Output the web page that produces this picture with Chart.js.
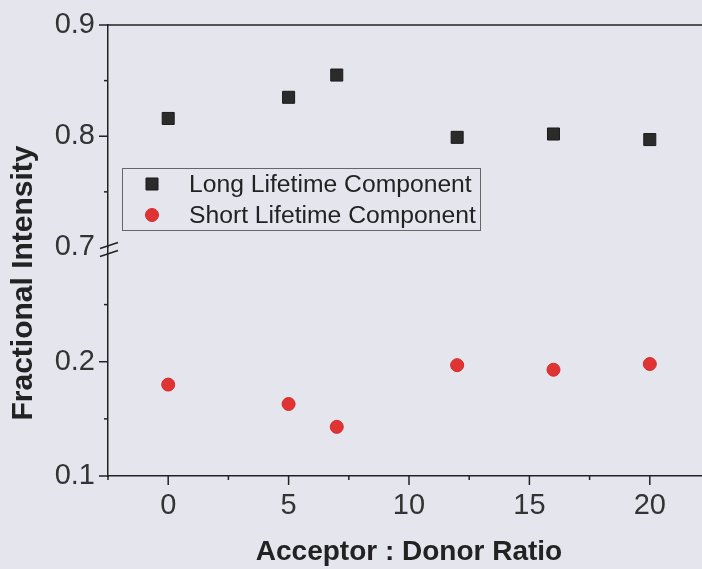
<!DOCTYPE html>
<html>
<head>
<meta charset="utf-8">
<script src="https://cdn.jsdelivr.net/npm/chart.js@4.4.1/dist/chart.umd.min.js"></script>
<style>
  html,
  body {
    margin: 0;
    padding: 0;
    overflow: hidden;
    background: #e5e5ed;
  }
</style>
</head>
<body>
<canvas id="myChartRatio" width="740" height="569"></canvas>
<script>
//? Données.

const ratios = [0, 5, 7, 12, 16, 20];
const longLifetime = [0.816, 0.835, 0.855, 0.799, 0.802, 0.797];
const shortLifetime = [0.18, 0.163, 0.143, 0.197, 0.193, 0.198];

const xTickLabels = [0, 5, 10, 15, 20];
const yTickLabelsLow = [0.1, 0.2];
const yTickLabelsHigh = [0.7, 0.8, 0.9];

const labelLong = "Long Lifetime Component";
const labelShort = "Short Lifetime Component";
const titreX = "Acceptor : Donor Ratio";
const titreY = "Fractional Intensity";

//? -------------------------------------------------

const police = "'Liberation Sans', Arial, sans-serif";
const couleurAxe = "#222";

const dansListe = (liste, v) => liste.some((l) => Math.abs(l - v) < 1e-6);

const toPoints = (xs, ys) => xs.map((x, i) => ({ x: x, y: ys[i] }));

//? Ticks, cadre, coupure d'axe, légende et titre Y.

const decorPlugin = {
  id: "decorFigure",
  afterDraw(chart) {
    const ctx = chart.ctx;
    const { x, yHigh, yLow } = chart.scales;
    const area = chart.chartArea;

    const ligne = (x1, y1, x2, y2) => {
      ctx.beginPath();
      ctx.moveTo(x1, y1);
      ctx.lineTo(x2, y2);
      ctx.stroke();
    };

    ctx.save();
    ctx.strokeStyle = couleurAxe;
    ctx.lineWidth = 1.5;

    // ticks axe X
    x.ticks.forEach((t) => {
      const px = x.getPixelForValue(t.value);
      const len = dansListe(xTickLabels, t.value) ? 9 : 4;
      ligne(px, area.bottom, px, area.bottom + len);
    });

    // ticks axes Y (pas de tick sur la coupure)
    yHigh.ticks.forEach((t) => {
      if (Math.abs(t.value - yHigh.min) < 1e-6) return;
      const py = yHigh.getPixelForValue(t.value);
      const len = dansListe(yTickLabelsHigh, t.value) ? 9 : 4;
      ligne(area.left - len, py, area.left, py);
    });
    yLow.ticks.forEach((t) => {
      if (Math.abs(t.value - yLow.max) < 1e-6) return;
      const py = yLow.getPixelForValue(t.value);
      const len = dansListe(yTickLabelsLow, t.value) ? 9 : 4;
      ligne(area.left - len, py, area.left, py);
    });

    // cadre haut et droite
    ligne(area.left, area.top, area.right, area.top);
    ligne(area.right, area.top, area.right, area.bottom);

    // coupure //
    const cx = area.left + 1;
    const cy = yHigh.bottom + 2;
    ligne(cx - 9, cy - 1, cx + 9, cy - 7);
    ligne(cx - 9, cy + 7, cx + 9, cy + 1);

    // légende
    ctx.lineWidth = 1;
    ctx.strokeStyle = "#666";
    ctx.strokeRect(122.5, 168.5, 358, 62);

    ctx.font = "24.7px " + police;
    ctx.textBaseline = "middle";
    ctx.textAlign = "left";
    chart.data.datasets.forEach((ds, i) => {
      const py = 184 + i * 31;
      ctx.fillStyle = ds.backgroundColor;
      ctx.strokeStyle = ds.borderColor;
      ctx.lineWidth = ds.borderWidth;
      Chart.helpers.drawPoint(
        ctx,
        { pointStyle: ds.pointStyle, radius: ds.pointRadius, borderWidth: ds.borderWidth },
        152,
        py
      );
      ctx.fillStyle = couleurAxe;
      ctx.fillText(ds.label, 189, py + 1);
    });

    // titre Y
    ctx.translate(24, 283);
    ctx.rotate(-Math.PI / 2);
    ctx.font = "bold 30px " + police;
    ctx.textAlign = "center";
    ctx.fillStyle = couleurAxe;
    ctx.fillText(titreY, 0, 0);

    ctx.restore();
  },
};

//? -------------------------------------------------

//? Construction du graphique.

const ctxRatio = document.getElementById("myChartRatio").getContext("2d");

const data = {
  datasets: [
    {
      label: labelLong,
      data: toPoints(ratios, longLifetime),
      yAxisID: "yHigh",
      pointStyle: "rect",
      pointRadius: 8.5,
      backgroundColor: "#2b2b2b",
      borderColor: "#1a1a1a",
      borderWidth: 1,
    },
    {
      label: labelShort,
      data: toPoints(ratios, shortLifetime),
      yAxisID: "yLow",
      pointStyle: "circle",
      pointRadius: 6.5,
      backgroundColor: "#e03434",
      borderColor: "#d22a2a",
      borderWidth: 1,
    },
  ],
};

const tickFont = { family: police, size: 29 };

const axeY = (min, max, poids, etiquettes) => ({
  type: "linear",
  position: "left",
  stack: "fraction",
  stackWeight: poids,
  min: min,
  max: max,
  afterFit: (scale) => {
    scale.width = 108;
  },
  ticks: {
    stepSize: 0.05,
    autoSkip: false,
    padding: 4,
    color: "#333",
    font: tickFont,
    callback: (v) => (dansListe(etiquettes, v) ? v.toFixed(1) : ""),
  },
  grid: {
    drawOnChartArea: false,
    tickLength: 9,
    tickColor: "transparent",
  },
  border: { display: true, color: couleurAxe, width: 1.5 },
});

const optionsRatio = {
  responsive: false,
  animation: false,
  layout: { padding: { top: 25, right: 30, left: 0, bottom: 0 } },
  plugins: {
    legend: { display: false },
    tooltip: { enabled: false },
  },
  scales: {
    x: {
      type: "linear",
      min: -2.5,
      max: 22.5,
      afterFit: (scale) => {
        scale.height = 93;
      },
      ticks: {
        stepSize: 2.5,
        autoSkip: false,
        maxRotation: 0,
        padding: 4,
        color: "#333",
        font: tickFont,
        callback: (v) => (dansListe(xTickLabels, v) ? String(v) : ""),
      },
      grid: {
        drawOnChartArea: false,
        tickLength: 9,
        tickColor: "transparent",
      },
      border: { display: true, color: couleurAxe, width: 1.5 },
      title: {
        display: true,
        text: titreX,
        color: couleurAxe,
        font: { family: police, size: 28, weight: "bold" },
        padding: { top: 0, bottom: 0 },
      },
    },
    // l'axe déclaré en dernier est placé en haut de la pile
    yLow: axeY(0.1, 0.3, 226, yTickLabelsLow),
    yHigh: axeY(0.7, 0.9, 220, yTickLabelsHigh),
  },
};

new Chart(ctxRatio, {
  type: "scatter",
  data,
  options: optionsRatio,
  plugins: [decorPlugin],
});
</script>
</body>
</html>
